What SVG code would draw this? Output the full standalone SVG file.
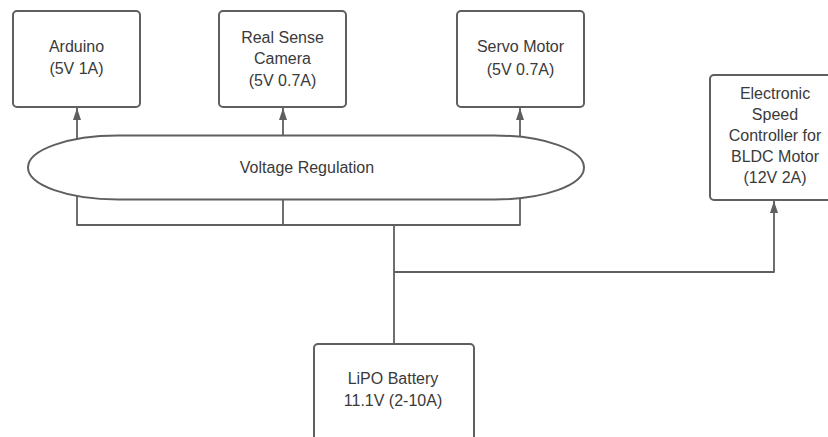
<svg xmlns="http://www.w3.org/2000/svg" width="828" height="437" viewBox="0 0 828 437">
<defs>
<style>
.box{fill:#fff;stroke:#5f5f5f;stroke-width:2}
.lbl{font-family:"Liberation Sans",Arial,sans-serif;font-size:16px;fill:#3a3a3a;text-anchor:middle}
.wire{fill:none;stroke:#5f5f5f;stroke-width:1.8;stroke-linejoin:round}
</style>
<marker id="ah" viewBox="0 0 12 8" refX="12" refY="4" markerWidth="12" markerHeight="8" markerUnits="userSpaceOnUse" orient="auto">
<path d="M0,0 L12,4 L0,8 Z" fill="#5f5f5f"/>
</marker>
</defs>
<rect width="828" height="437" fill="#fff"/>
<g id="connectors">
<path class="wire" d="M77,139 V108" marker-end="url(#ah)"/>
<path class="wire" d="M283,136 V108" marker-end="url(#ah)"/>
<path class="wire" d="M520,137 V108" marker-end="url(#ah)"/>
<path class="wire" d="M77,196 V225 H520 V198"/>
<path class="wire" d="M283,199 V225"/>
<path class="wire" d="M394,225 V344"/>
<path class="wire" d="M394,272 H774 V201" marker-end="url(#ah)"/>
</g>
<g id="arduino">
<rect class="box" x="13" y="11" width="127" height="96" rx="4"/>
<text class="lbl" x="76.5" y="52">Arduino</text>
<text class="lbl" x="76.5" y="74">(5V 1A)</text>
</g>
<g id="camera">
<rect class="box" x="219" y="11" width="127" height="96" rx="4"/>
<text class="lbl" x="282.5" y="43">Real Sense</text>
<text class="lbl" x="282.5" y="64">Camera</text>
<text class="lbl" x="282.5" y="86">(5V 0.7A)</text>
</g>
<g id="servo">
<rect class="box" x="457" y="11" width="127" height="96" rx="4"/>
<text class="lbl" x="520.5" y="52">Servo Motor</text>
<text class="lbl" x="520.5" y="75">(5V 0.7A)</text>
</g>
<g id="esc">
<rect class="box" x="710" y="75" width="130" height="125" rx="4"/>
<text class="lbl" x="775" y="99">Electronic</text>
<text class="lbl" x="775" y="120">Speed</text>
<text class="lbl" x="775" y="141">Controller for</text>
<text class="lbl" x="775" y="162">BLDC Motor</text>
<text class="lbl" x="775" y="183">(12V 2A)</text>
</g>
<g id="voltage-regulation">
<path class="box" d="M28,167.5 A90,32 0 0 1 118,135.5 L494,135.5 A90,32 0 0 1 584,167.5 A90,32 0 0 1 494,199.5 L118,199.5 A90,32 0 0 1 28,167.5 Z"/>
<text class="lbl" x="307" y="173">Voltage Regulation</text>
</g>
<g id="battery">
<rect class="box" x="314" y="344" width="160" height="104" rx="4"/>
<text class="lbl" x="393" y="384">LiPO Battery</text>
<text class="lbl" x="393" y="406">11.1V (2-10A)</text>
</g>
</svg>
